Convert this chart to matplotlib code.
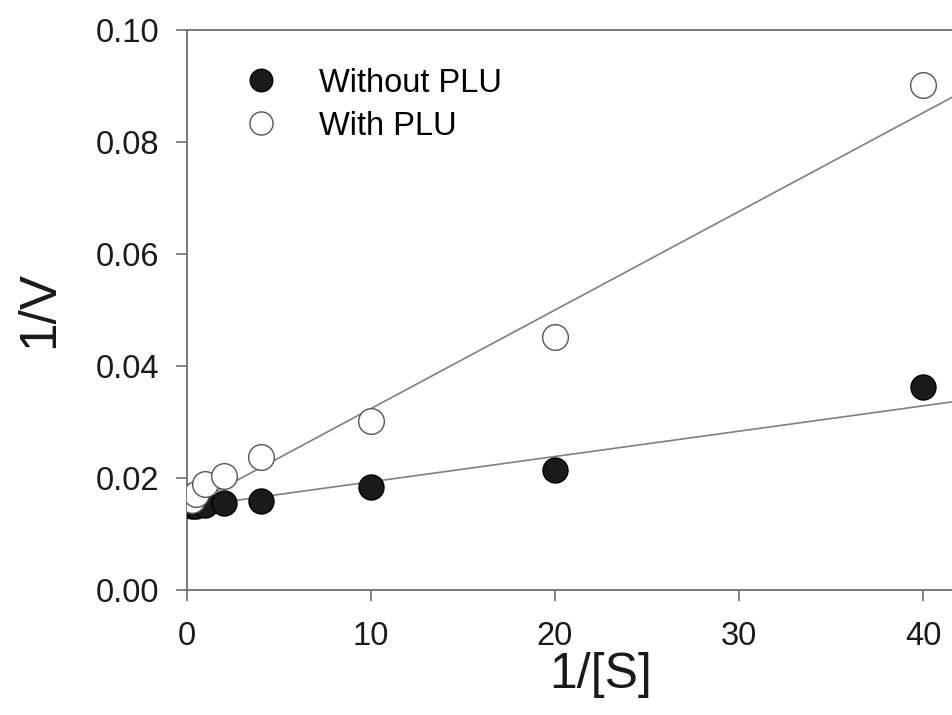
import numpy as np
import matplotlib.pyplot as plt

plt.rcParams['font.family'] = ['Liberation Sans', 'DejaVu Sans']

# Lineweaver-Burk data
inv_s = [0.25, 0.5, 1, 2, 4, 10, 20, 40]
v_without = [0.0150, 0.0150, 0.0152, 0.0155, 0.0159, 0.0184, 0.0214, 0.0363]
v_with = [0.0161, 0.0172, 0.0190, 0.0204, 0.0238, 0.0301, 0.0452, 0.0902]

# fitted lines (intercept, slope)
fit_without = (0.0148, 0.000452)
fit_with = (0.0148, 0.00176)

fig = plt.figure(figsize=(9.52, 7.15), dpi=100)
ax = fig.add_axes([187 / 952, 1 - 590 / 715, 45 * 18.4 / 952, 560 / 715])

xl = np.array([0, 45])
ax.plot(xl, fit_without[0] + fit_without[1] * xl, color='#808080', lw=1.2, zorder=1)
ax.plot(xl, fit_with[0] + fit_with[1] * xl, color='#808080', lw=1.2, zorder=1)

ax.plot(inv_s, v_without, 'o', ms=18, mfc='#1a1a1a', mec='black', mew=1.0,
        label='Without PLU', zorder=3)
ax.plot(inv_s, v_with, 'o', ms=18.5, mfc='white', mec='#555555', mew=1.0,
        label='With PLU', zorder=4)

ax.set_xlim(0, 45)
ax.set_ylim(0, 0.10)
ax.set_xticks([0, 10, 20, 30, 40])
ax.set_yticks(np.arange(0, 0.101, 0.02))
ax.yaxis.set_major_formatter(plt.FormatStrFormatter('%.2f'))

for s in ax.spines.values():
    s.set_color('#707070')
    s.set_linewidth(1.3)
ax.tick_params(direction='out', length=8, width=1.2, color='#707070',
               labelsize=23.5, labelcolor='#1a1a1a')
ax.tick_params(axis='y', pad=12)
ax.tick_params(axis='x', pad=14)

ax.set_xlabel('1/[S]', fontsize=36, color='#1a1a1a', labelpad=0)
ax.set_ylabel('1/V', fontsize=37, color='#1a1a1a', labelpad=23)

ax.legend(loc='upper left', bbox_to_anchor=(0.014, 0.985), frameon=False,
          fontsize=23.5, handletextpad=0.8, labelspacing=0.37, markerscale=0.9)

fig.savefig('out.png', dpi=100)
